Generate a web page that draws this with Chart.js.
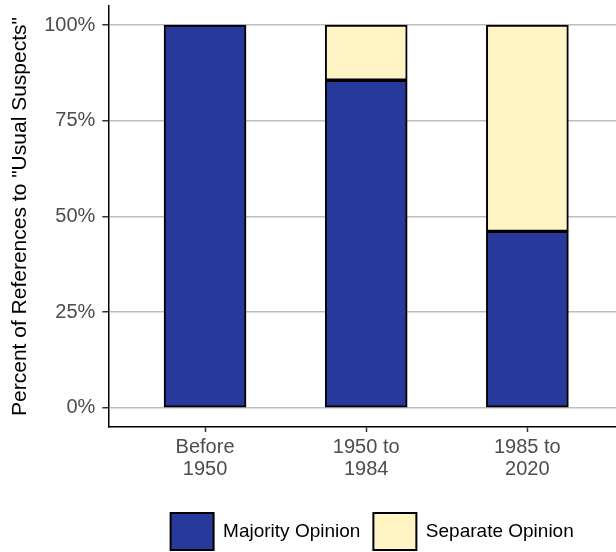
<!DOCTYPE html>
<html>
<head>
<meta charset="utf-8">
<script src="https://cdn.jsdelivr.net/npm/chart.js@4/dist/chart.umd.min.js"></script>
<style>
  html, body { margin: 0; padding: 0; background: #fff; }
  #wrap { width: 616px; height: 552px; }
</style>
</head>
<body>
<div id="wrap"><canvas id="chart"></canvas></div>
<script>
// categories (x positions 1..3), multi-line tick labels
const categories = [['Before', '1950'], ['1950 to', '1984'], ['1985 to', '2020']];
const majorityValues = [100, 85.6, 46.1];
const separateValues = [0, 14.4, 53.9];
const yTicks = [0, 25, 50, 75, 100];

const FONT = '"Liberation Sans", Arial, Helvetica, sans-serif';

const toPoints = vals => vals.map((v, i) => ({ x: i + 1, y: v }));

// nudge the legend a bit to the right, like the ggplot original
const legendShift = {
    id: 'legendShift',
    afterLayout(chart) {
        chart.legend.left += 10;
        chart.legend.right += 10;
    }
};

new Chart(document.getElementById('chart'), {
    type: 'bar',
    data: {
        datasets: [
            {
                label: 'Majority Opinion',
                data: toPoints(majorityValues),
                backgroundColor: '#27399a',
                borderColor: '#000',
                borderWidth: 2,
                borderSkipped: false
            },
            {
                label: 'Separate Opinion',
                data: toPoints(separateValues),
                backgroundColor: '#fff5c4',
                borderColor: '#000',
                borderWidth: 2,
                borderSkipped: false
            }
        ]
    },
    plugins: [legendShift],
    options: {
        responsive: true,
        maintainAspectRatio: false,
        animation: false,
        layout: { padding: { left: 8, right: 0, top: 6, bottom: -8 } },
        datasets: { bar: { barThickness: 82 } },
        scales: {
            x: {
                type: 'linear',
                stacked: true,
                offset: false,
                min: 0.4,
                max: 3.55,
                afterBuildTicks: scale => {
                    scale.ticks = categories.map((c, i) => ({ value: i + 1 }));
                },
                // leave extra room between tick labels and legend
                afterFit: scale => { scale.height += 16; },
                grid: {
                    offset: false,
                    drawOnChartArea: false,
                    drawTicks: true,
                    tickLength: 5,
                    tickColor: '#333',
                    tickWidth: 1.5
                },
                border: { color: '#000', width: 1.5 },
                ticks: {
                    color: '#4d4d4d',
                    font: { family: FONT, size: 20, lineHeight: 1.1 },
                    padding: 4,
                    maxRotation: 0,
                    autoSkip: false,
                    callback: v => categories[v - 1]
                }
            },
            y: {
                stacked: true,
                min: -5,
                max: 105,
                afterBuildTicks: scale => {
                    scale.ticks = yTicks.map(v => ({ value: v }));
                },
                // ticks sit inside the expanded range, no label padding needed
                afterFit: scale => { scale.paddingTop = 0; scale.paddingBottom = 0; },
                grid: {
                    color: '#bebebe',
                    lineWidth: 1.5,
                    tickLength: 6,
                    tickColor: '#333',
                    tickWidth: 1.5
                },
                border: { color: '#000', width: 1.5 },
                ticks: {
                    color: '#4d4d4d',
                    font: { family: FONT, size: 20 },
                    padding: 7,
                    callback: v => v + '%'
                },
                title: {
                    display: true,
                    text: 'Percent of References to "Usual Suspects"',
                    color: '#000',
                    font: { family: FONT, size: 21 },
                    padding: { top: 0, bottom: 4 }
                }
            }
        },
        plugins: {
            legend: {
                position: 'bottom',
                fullSize: false,
                labels: {
                    boxWidth: 43,
                    boxHeight: 37,
                    color: '#000',
                    font: { family: FONT, size: 19 },
                    padding: 13
                }
            },
            tooltip: { enabled: false }
        }
    }
});
</script>
</body>
</html>
